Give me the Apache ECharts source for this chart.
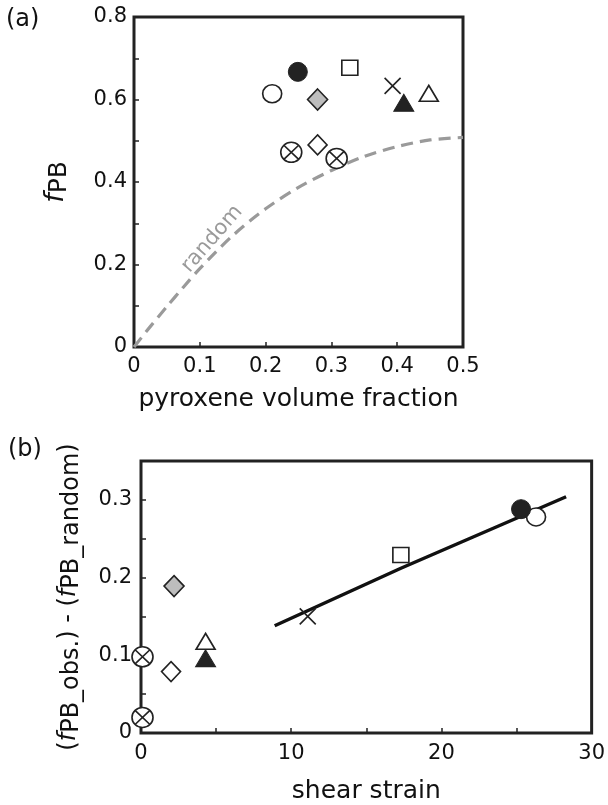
<!DOCTYPE html>
<html><head><meta charset="utf-8">
<script src="https://cdn.jsdelivr.net/npm/echarts@6/dist/echarts.min.js"></script>
<style>html,body{margin:0;padding:0;background:#fff}#c{width:608px;height:805px}</style>
</head><body><div id="c"></div>
<script>
// ---- data ----
const markerNames = ['openCircle','filledCircle','openSquare','grayDiamond','cross','filledTriangle','openTriangle','otimesA','openDiamond','otimesB'];
// panel (a): pyroxene volume fraction vs fPB
const topX = [0.210, 0.249, 0.328, 0.279, 0.393, 0.410, 0.448, 0.239, 0.279, 0.308];
const topY = [0.614, 0.667, 0.677, 0.600, 0.633, 0.592, 0.615, 0.472, 0.490, 0.457];
// panel (b): shear strain vs (fPB_obs.)-(fPB_random)
const botX = [26.3, 25.3, 17.3, 2.2, 11.1, 4.3, 4.3, 0.1, 2.0, 0.1];
const botY = [0.278, 0.288, 0.229, 0.189, 0.150, 0.096, 0.118, 0.098, 0.079, 0.020];
// random-distribution curve in (a)
const randomX = [0, 0.025, 0.05, 0.075, 0.1, 0.15, 0.2, 0.25, 0.3, 0.35, 0.4, 0.45, 0.5];
const randomY = [0, 0.05, 0.098, 0.145, 0.19, 0.27, 0.335, 0.387, 0.428, 0.462, 0.486, 0.502, 0.508];
// fit line in (b)
const fitX = [8.9, 17.3, 28.3];
const fitY = [0.138, 0.212, 0.304];
// tick labels shown
const topXTickLabels = ['0','0.1','0.2','0.3','0.4','0.5'];
const topYTickLabels = ['0','0.2','0.4','0.6','0.8'];
const botXTickLabels = ['0','10','20','30'];
const botYTickLabels = ['0','0.1','0.2','0.3'];

// ---- styles ----
const INK = '#222';
const FONT = 'DejaVu Sans';
const otimesPath = 'path://M10 0A10 10 0 1 1 -10 0A10 10 0 1 1 10 0ZM-7.07 -7.07L7.07 7.07M7.07 -7.07L-7.07 7.07';
const crossPath = 'path://M0 0L10 10M10 0L0 10';
const markerStyle = {
  openCircle:     {symbol:'circle',   size:[19,18], fill:'#fff', bw:1.6},
  filledCircle:   {symbol:'circle',   size:[19,19], fill:INK,    bw:1},
  openSquare:     {symbol:'rect',     size:[16,15], fill:'#fff', bw:1.6},
  grayDiamond:    {symbol:'diamond',  size:[20,21], fill:'#bdbdbd', bw:1.6},
  cross:          {symbol:crossPath,  size:[16,16], fill:'rgba(0,0,0,0)', bw:1.6},
  filledTriangle: {symbol:'triangle', size:[20,17], fill:INK,    bw:1},
  openTriangle:   {symbol:'triangle', size:[19,16], fill:'#fff', bw:1.6},
  otimesA:        {symbol:otimesPath, size:[21,20], fill:'#fff', bw:1.6},
  openDiamond:    {symbol:'diamond',  size:[19,20], fill:'#fff', bw:1.6},
  otimesB:        {symbol:otimesPath, size:[21,20], fill:'#fff', bw:1.6}
};

function fmt(v){ return String(parseFloat((+v).toFixed(3))); }
function labelFilter(list){ return function(v){ const s = fmt(v); return list.indexOf(s) >= 0 ? s : ''; }; }

const series = [];
series.push({
  type:'line', xAxisIndex:0, yAxisIndex:0, name:'random',
  data: randomX.map((x,i)=>[x, randomY[i]]),
  smooth:0.3, symbol:'none', clip:false,
  lineStyle:{color:'#9a9a9a', width:3.2, type:[12,7]}, z:1
});
series.push({
  type:'line', xAxisIndex:1, yAxisIndex:1, name:'fit',
  data: fitX.map((x,i)=>[x, fitY[i]]),
  symbol:'none', clip:false,
  lineStyle:{color:'#111', width:3.5}, z:1
});
markerNames.forEach((m,i)=>{
  const st = markerStyle[m];
  const common = {
    type:'scatter', symbol:st.symbol, symbolSize:st.size, clip:false,
    itemStyle:{color:st.fill, borderColor:INK, borderWidth:st.bw, opacity:1}, z:3
  };
  series.push(Object.assign({}, common, {xAxisIndex:0, yAxisIndex:0, name:m+'_a', data:[[topX[i], topY[i]]]}));
  series.push(Object.assign({}, common, {xAxisIndex:1, yAxisIndex:1, name:m+'_b', data:[[botX[i], botY[i]]]}));
});

const tickLabelStyle = {color:'#111', fontSize:21, fontFamily:FONT};
const nameStyle = {color:'#111', fontSize:25, fontFamily:FONT};
const axisCommon = {
  axisLine:{show:false}, splitLine:{show:false},
  axisTick:{show:true, inside:true, length:5, lineStyle:{color:INK, width:1.5}}
};

const option = {
  animation:false,
  backgroundColor:'#fff',
  grid:[
    {left:134, top:17, width:329, height:330, show:true, borderColor:INK, borderWidth:3, backgroundColor:'transparent'},
    {left:141, top:461, width:456, height:272, show:true, borderColor:INK, borderWidth:3, backgroundColor:'transparent'}
  ],
  xAxis:[
    Object.assign({}, axisCommon, {
      gridIndex:0, type:'value', min:0, max:0.5, interval:0.1,
      axisLabel:Object.assign({margin:9, formatter:labelFilter(topXTickLabels)}, tickLabelStyle),
      name:'pyroxene volume fraction', nameLocation:'middle', nameGap:40, nameTextStyle:nameStyle
    }),
    Object.assign({}, axisCommon, {
      gridIndex:1, type:'value', min:0, max:30, interval:5,
      axisLabel:Object.assign({margin:10, formatter:labelFilter(botXTickLabels)}, tickLabelStyle),
      name:'shear strain', nameLocation:'middle', nameGap:46, nameTextStyle:nameStyle
    })
  ],
  yAxis:[
    Object.assign({}, axisCommon, {
      gridIndex:0, type:'value', min:0, max:0.8, interval:0.1,
      axisLabel:Object.assign({margin:7, formatter:labelFilter(topYTickLabels)}, tickLabelStyle),
      name:'{i|f}{s|PB}', nameLocation:'middle', nameGap:62, nameRotate:90,
      nameTextStyle:Object.assign({}, nameStyle, {rich:{
        i:{fontStyle:'italic', fontSize:27, fontFamily:FONT, color:'#111', verticalAlign:'top', lineHeight:30},
        s:{fontSize:25, fontFamily:FONT, color:'#111', verticalAlign:'bottom', lineHeight:22}
      }})
    }),
    Object.assign({}, axisCommon, {
      gridIndex:1, type:'value', min:0, max:0.35, interval:0.05,
      axisLabel:Object.assign({margin:9, formatter:labelFilter(botYTickLabels)}, tickLabelStyle),
      name:'{p|(}{i|f}{s|PB_obs.}{p|) - (}{i|f}{s|PB_random}{p|)}', nameLocation:'middle', nameGap:57, nameRotate:90,
      nameTextStyle:Object.assign({}, nameStyle, {rich:{
        p:{fontSize:24, fontFamily:FONT, color:'#111', verticalAlign:'middle', lineHeight:30},
        i:{fontStyle:'italic', fontSize:24, fontFamily:FONT, color:'#111', verticalAlign:'middle', lineHeight:30},
        s:{fontSize:24, fontFamily:FONT, color:'#111', verticalAlign:'bottom', lineHeight:25}
      }})
    })
  ],
  graphic:[
    {type:'text', left:6, top:8, style:{text:'(a)', fontSize:24, fontFamily:FONT, fill:'#111'}},
    {type:'text', left:8, top:438, style:{text:'(b)', fontSize:24, fontFamily:FONT, fill:'#111'}},
    {type:'text', x:212, y:239, rotation:49*Math.PI/180,
     style:{text:'random', fontSize:21, fontFamily:FONT, fill:'#9a9a9a', align:'center', verticalAlign:'middle'}}
  ],
  series:series
};
const chart = echarts.init(document.getElementById('c'));
chart.setOption(option);
</script>
</body></html>
